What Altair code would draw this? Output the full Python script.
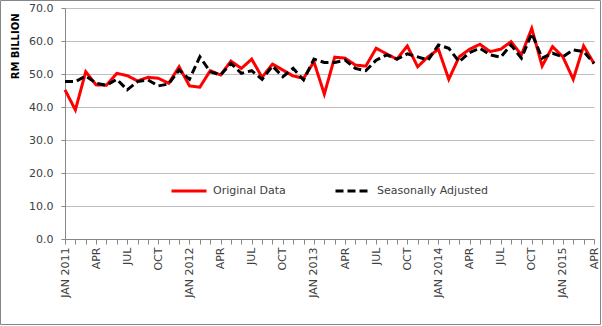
import altair as alt
import pandas as pd

month_names = ["JAN", "FEB", "MAR", "APR", "MAY", "JUN", "JUL", "AUG", "SEP", "OCT", "NOV", "DEC"]
years = [2011, 2012, 2013, 2014, 2015]
months = [f"{m} {y}" for y in years for m in month_names][:52]  # Jan 2011 .. Apr 2015

original = [45.2, 39.1, 50.7, 46.7, 46.6, 50.2, 49.5, 47.9, 49.0, 48.7, 47.2, 52.2,
            46.4, 46.0, 51.0, 49.7, 53.9, 51.7, 54.5, 49.0, 53.0, 51.2, 49.4, 48.7,
            53.7, 43.9, 55.1, 54.8, 52.7, 52.4, 57.8, 56.1, 54.5, 58.5, 52.2, 55.2,
            57.5, 48.4, 55.2, 57.5, 59.0, 56.8, 57.5, 59.8, 55.8, 63.8, 52.4, 58.3,
            55.2, 48.4, 58.5, 53.2]
seasonal = [47.7, 47.7, 49.4, 47.2, 46.6, 48.4, 45.2, 47.7, 48.2, 46.4, 47.0, 51.2,
            48.4, 55.2, 50.7, 49.7, 53.2, 50.2, 51.0, 48.4, 52.4, 49.2, 51.7, 48.2,
            54.5, 53.5, 53.5, 54.2, 51.7, 51.0, 54.2, 55.8, 54.5, 56.1, 55.2, 54.2,
            58.8, 57.8, 53.7, 56.5, 57.8, 55.8, 55.1, 58.8, 54.8, 62.3, 54.8, 56.3,
            55.2, 57.3, 56.8, 53.2]
series_names = ["Original Data", "Seasonally Adjusted"]
y_ticks = [0, 10, 20, 30, 40, 50, 60, 70]

df = pd.DataFrame({
    "month": months * 2,
    "value": original + seasonal,
    "series": [series_names[0]] * len(months) + [series_names[1]] * len(months),
})

FONT = "DejaVu Sans"
label_expr = ("indexof(['JAN','APR','JUL','OCT'], slice(datum.label,0,3)) < 0 ? '' : "
              "(slice(datum.label,0,3) == 'JAN' ? datum.label : slice(datum.label,0,3))")

legend_opts = dict(title=None, orient="none", legendX=105, legendY=164,
                   direction="horizontal", symbolType="stroke",
                   symbolSize=1225, symbolStrokeWidth=3, labelOffset=5,
                   columnPadding=43, labelFont=FONT, labelFontSize=11,
                   labelColor="#404040")

lines = alt.Chart(df).mark_line(strokeWidth=3).encode(
    x=alt.X("month:O", sort=months,
            scale=alt.Scale(type="point", padding=0),
            axis=alt.Axis(title=None, labelAngle=-90, labelAlign="right", labelBaseline="middle",
                          labelExpr=label_expr, labelOverlap=False, labelPadding=3,
                          tickSize=5, tickColor="#868686", domainColor="#868686",
                          labelFont=FONT, labelFontSize=11, labelColor="#404040", grid=False)),
    y=alt.Y("value:Q", scale=alt.Scale(domain=[0, 70], nice=False),
            axis=alt.Axis(title="RM BILLION", values=y_ticks, format=".1f",
                          titleFont=FONT, titleFontSize=10, titleFontWeight="bold", titleColor="#000000",
                          titleAnchor="end", titleY=5, titlePadding=8,
                          labelFont=FONT, labelFontSize=11, labelColor="#404040", labelPadding=8,
                          tickSize=4, tickColor="#868686", domainColor="#868686",
                          grid=True, gridColor="#BFBFBF", gridWidth=1)),
    color=alt.Color("series:N", scale=alt.Scale(domain=series_names, range=["#FF0000", "#000000"]),
                    legend=alt.Legend(**legend_opts)),
    strokeDash=alt.StrokeDash("series:N", scale=alt.Scale(domain=series_names, range=[[1, 0], [8, 4]]),
                              legend=alt.Legend(**legend_opts)),
    order=alt.Order("series:N"),
)

border = alt.Chart(pd.DataFrame({"a": [0]})).mark_rect(
    fill=None, stroke="#868686", strokeWidth=1
).encode(x=alt.value(-64.5), x2=alt.value(535.5), y=alt.value(-7.5), y2=alt.value(316.5))

chart = alt.layer(lines, border).properties(
    width=529, height=231,
    padding={"left": 65, "top": 8, "right": 8, "bottom": 87},
    autosize=alt.AutoSizeParams(type="none"),
    background="white",
).configure_view(stroke=None)

chart.save("out.html", embed_options={"renderer": "svg", "actions": False})
